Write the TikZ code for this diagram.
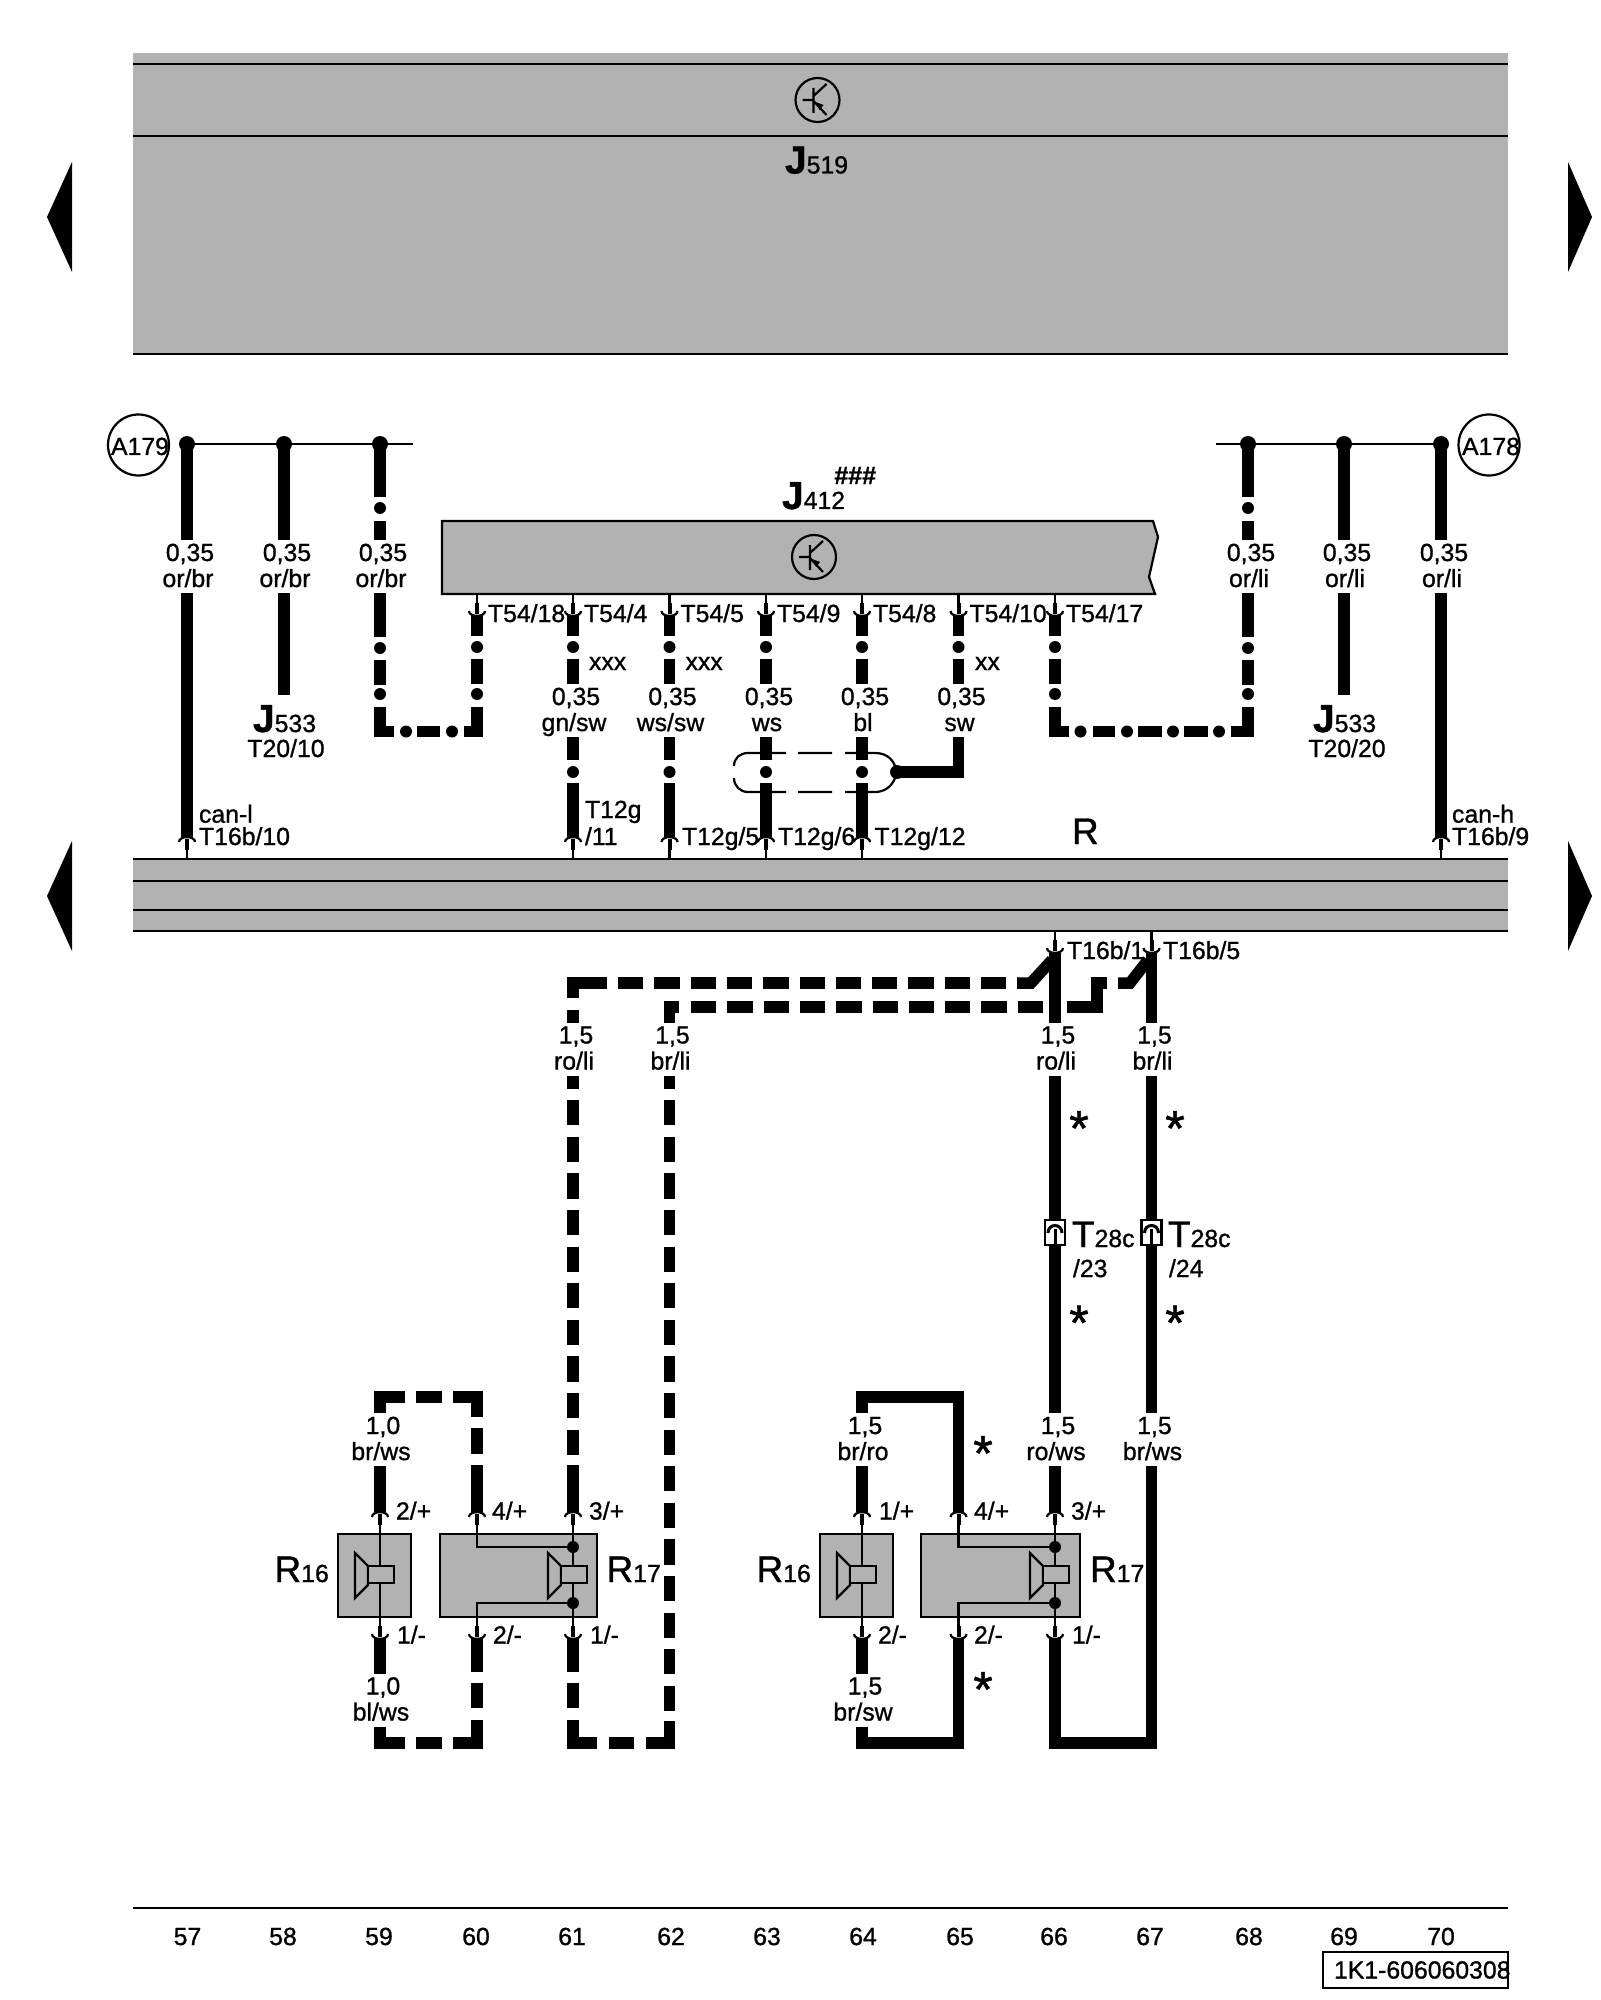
\documentclass[tikz,border=0pt]{standalone}
\usepackage{fontspec}
\setmainfont[FakeBold=1.0]{Liberation Sans}
\definecolor{blockgray}{RGB}{178,178,178}
\newcommand\fsm{\fontsize{12.4}{13}\selectfont}
\newcommand\fbig{\fontsize{18.5}{19}\selectfont}
\newcommand\fbigb{\fontsize{19.5}{20}\bfseries\selectfont}
\newcommand\bigsub[2]{{\fbig #1}{\fsm #2}}
\newcommand\jsub[1]{{\fbigb J}{\fsm #1}}
\newcommand\wl[2]{\rule{0pt}{10.5pt}\hspace*{2pt}#1\\\rule[-3pt]{0pt}{3pt}#2}
\tikzset{
  thinline/.style={line width=1.1pt},
  wire/.style={line width=5.75pt,line cap=butt,line join=miter,miter limit=10},
  dashH/.style={wire,dash pattern=on 12.65pt off 5.5pt},
  dashV/.style={wire,dash pattern=on 12.6pt off 5.7pt,dash phase=6pt},
  wlabel/.style={font=\fsm,align=center,inner sep=0pt,outer sep=0pt,minimum height=26.5pt,xshift=-0.5pt},
  txt/.style={font=\fsm,inner sep=0pt,outer sep=0pt,anchor=base west},
  txtc/.style={font=\fsm,inner sep=0pt,outer sep=0pt,anchor=base},
  star/.style={font=\fontsize{25}{25}\selectfont,inner sep=0pt,outer sep=0pt,anchor=base},
  gbox/.style={draw=black,line width=1.1pt,fill=blockgray,inner sep=0pt,outer sep=0pt,rectangle},
  tag/.style={circle,draw=black,line width=1.1pt,fill=white,inner sep=0pt,minimum size=30.5pt},
}
% vertical and horizontal wire pieces
\newcommand\vw[3]{\draw[wire] (#1 |- 0,#2) -- (#1 |- 0,#3);}
\newcommand\hw[3]{\draw[wire] (#1,#3) -- (#2,#3);}
\newcommand\vd[2]{\fill (#1 |- 0,#2) circle (6);}
\newcommand\hd[2]{\fill (#1,#2) circle (6);}
% connector drawn at a wire end, dir=1: contact below, dir=-1: contact above
\newcommand\pinart[2]{\begin{scope}[shift={(#1)},yscale=#2]
  \draw[line width=1.1pt,fill=white] (-8,5) .. controls (-8,-1.5) and (8,-1.5) .. (8,5);
  \draw[line width=2pt] (0,2) -- (0,13);
  \draw[thinline] (0,13) -- (0,22);
\end{scope}}
\newcommand\speaker[1]{\begin{scope}[shift={(#1 |- 0,1575)}]
  \draw[thinline,fill=blockgray] (-25,-22) -- (-25,23) -- (-12,10) -- (-12,-9) -- cycle;
  \draw[thinline,fill=blockgray] (-12,-9) rectangle (14,8);
\end{scope}}
\newcommand\transistor[1]{\begin{scope}[shift={(#1)}]
  \draw[line width=1.1pt] (0,0) circle (22);
  \draw[line width=1.1pt] (-15,0) -- (-4,0) (-4,-12) -- (-4,13) (-4,-4) -- (9,-16) (-4,1) -- (9,15);
  \fill (-2,2) -- (6,5) -- (2,10) -- cycle;
\end{scope}}
\newcommand\colupper[1]{\vw{#1}{614}{636}\vd{#1}{647}\vw{#1}{659}{684}}
\newcommand\collower[1]{\vw{#1}{737}{760}\vd{#1}{772}}
\newcommand\tcontact[1]{\begin{scope}[shift={(#1)}]
  \draw[thinline,fill=white] (-10,0) rectangle (10,25);
  \draw[line width=1.5pt] (-7,13) .. controls (-7,3) and (7,3) .. (7,13);
  \draw[line width=1.5pt] (0,9) -- (0,25);
\end{scope}}
\begin{document}
\begin{tikzpicture}[x=0.5pt,y=-0.5pt]
\path[use as bounding box,fill=white] (0,0) rectangle (1600,2000);
% columns
\coordinate (c57) at (187,0);   \coordinate (c58) at (284,0);
\coordinate (c59) at (380,0);   \coordinate (c60) at (477,0);
\coordinate (c61) at (573,0);   \coordinate (c62) at (669.5,0);
\coordinate (c63) at (766,0);   \coordinate (c64) at (862,0);
\coordinate (c65) at (958.5,0); \coordinate (c66) at (1055,0);
\coordinate (c67) at (1151.5,0);\coordinate (c68) at (1248,0);
\coordinate (c69) at (1344,0);  \coordinate (c70) at (1441,0);
% side triangles
\fill (72,162) -- (47,217) -- (72,272) -- cycle;
\fill (1568,162) -- (1592,217) -- (1568,272) -- cycle;
\fill (72,841) -- (47,896) -- (72,951) -- cycle;
\fill (1568,841) -- (1592,896) -- (1568,951) -- cycle;
% J519 block
\fill[blockgray] (133,53) rectangle (1508,354);
\draw[thinline] (133,64) -- (1508,64) (133,136) -- (1508,136) (133,354) -- (1508,354);
\coordinate (t519) at (817.5,100);
\transistor{t519}
\node[txt] (J519) at (785,173.5) {\jsub{519}};
% R bar
\fill[blockgray] (133,859) rectangle (1508,931);
\draw[thinline] (133,859) -- (1508,859) (133,881) -- (1508,881) (133,910) -- (1508,910) (133,931) -- (1508,931);
% J412 block
\draw[thinline,fill=blockgray] (1153,521) -- (442,521) -- (442,594) -- (1155,594) -- (1149,577) -- (1158,537) -- cycle;
\coordinate (t412) at (814,557);
\transistor{t412}
\node[txt] (J412) at (782,509) {\jsub{412}};
\node[font=\fontsize{12.5}{13}\bfseries\selectfont,inner sep=0pt,anchor=base west] (hash) at (834,484) {\#\#\#};
% bus lines
\coordinate (n57) at (c57 |- 0,444); \coordinate (n58) at (c58 |- 0,444); \coordinate (n59) at (c59 |- 0,444);
\coordinate (n68) at (c68 |- 0,444); \coordinate (n69) at (c69 |- 0,444); \coordinate (n70) at (c70 |- 0,444);
\coordinate (busl) at (413,444); \coordinate (busr) at (1216,444);
\draw[thinline] (n57) -- (busl);
\draw[thinline] (busr) -- (n70);
% circled tags
\node[tag] (a179) at (138.5,445) {};
\node[txtc] (a179t) at (140,455) {A179};
\node[tag] (a178) at (1489,445) {};
\node[txtc] (a178t) at (1491,455) {A178};
% pin coordinates
\foreach \c in {57,61,62,63,64,70} {\coordinate (pb\c) at (c\c |- 0,837);}
\foreach \c in {60,61,62,63,64,65,66} {\coordinate (pj\c) at (c\c |- 0,616);}
\foreach \c in {66,67} {\coordinate (pr\c) at (c\c |- 0,953);}
\foreach \c in {59,60,61,64,65,66} {\coordinate (st\c) at (c\c |- 0,1512); \coordinate (sb\c) at (c\c |- 0,1639);}
% wire labels
\node[wlabel] (la57) at (189,566.5) {\wl{0,35}{or/br}};
\node[wlabel] (la58) at (286,566.5) {\wl{0,35}{or/br}};
\node[wlabel] (la59) at (382,566.5) {\wl{0,35}{or/br}};
\node[wlabel] (la68) at (1250,566.5) {\wl{0,35}{or/li}};
\node[wlabel] (la69) at (1346,566.5) {\wl{0,35}{or/li}};
\node[wlabel] (la70) at (1443,566.5) {\wl{0,35}{or/li}};
\node[wlabel] (lb61) at (575,710.5) {\wl{0,35}{gn/sw}};
\node[wlabel] (lb62) at (671.5,710.5) {\wl{0,35}{ws/sw}};
\node[wlabel] (lb63) at (768,710.5) {\wl{0,35}{ws}};
\node[wlabel] (lb64) at (864,710.5) {\wl{0,35}{bl}};
\node[wlabel] (lb65) at (960.5,710.5) {\wl{0,35}{sw}};
\node[wlabel] (lc61) at (575,1049) {\wl{1,5}{ro/li}};
\node[wlabel] (lc62) at (671.5,1049) {\wl{1,5}{br/li}};
\node[wlabel] (lc66) at (1057,1049) {\wl{1,5}{ro/li}};
\node[wlabel] (lc67) at (1153.5,1049) {\wl{1,5}{br/li}};
\node[wlabel] (ld59) at (382,1439.5) {\wl{1,0}{br/ws}};
\node[wlabel] (ld64) at (864,1439.5) {\wl{1,5}{br/ro}};
\node[wlabel] (ld66) at (1057,1439.5) {\wl{1,5}{ro/ws}};
\node[wlabel] (ld67) at (1153.5,1439.5) {\wl{1,5}{br/ws}};
\node[wlabel] (le59) at (382,1700) {\wl{1,0}{bl/ws}};
\node[wlabel] (le64) at (864,1700) {\wl{1,5}{br/sw}};
% top wires
\draw[wire] (n57) -- (n57 |- la57.north);
\draw[wire] (n57 |- la57.south) -- (pb57);
\draw[wire] (n58) -- (n58 |- la58.north);
\coordinate (e58) at (c58 |- 0,695);
\draw[wire] (n58 |- la58.south) -- (e58);
\draw[wire] (n69) -- (n69 |- la69.north);
\coordinate (e69) at (c69 |- 0,695);
\draw[wire] (n69 |- la69.south) -- (e69);
\draw[wire] (n70) -- (n70 |- la70.north);
\draw[wire] (n70 |- la70.south) -- (pb70);
% dash-dot loop left
\vw{n59}{444}{497}\vd{c59}{508}\vw{c59}{521}{540}\vw{c59}{593}{637}\vd{c59}{648}\vw{c59}{660}{685}\vd{c59}{694}
\draw[wire] (380,707) -- (380,731.5) -- (394,731.5);
\hd{406}{731.5}\hw{417}{440}{731.5}\hd{452}{731.5}
\draw[wire] (464,731.5) -- (477,731.5) -- (477,707);
\vd{c60}{694}
\colupper{c60}
% dash-dot loop right
\vw{n68}{444}{497}\vd{c68}{508}\vw{c68}{521}{540}\vw{c68}{593}{637}\vd{c68}{648}\vw{c68}{660}{685}\vd{c68}{694}
\draw[wire] (1248,707) -- (1248,731.5) -- (1231,731.5);
\hd{1219}{731.5}\hw{1184}{1208}{731.5}\hd{1173}{731.5}\hw{1138}{1162}{731.5}\hd{1127}{731.5}\hw{1093}{1115}{731.5}\hd{1080.5}{731.5}
\draw[wire] (1069,731.5) -- (1055,731.5) -- (1055,707);
\vd{c66}{694}
\colupper{c66}
% bus dots
\foreach \c in {n57,n58,n59,n68,n69,n70} {\fill (\c) circle (8);}
% T54 to T12g columns
\foreach \c in {61,62,63,64} {\colupper{c\c}\collower{c\c}\draw[wire] (c\c |- 0,783) -- (pb\c);}
\colupper{c65}
\coordinate (sd) at (897,772);
\draw[wire] (lb65.south -| c65) -- (c65 |- sd) -- (sd);
\fill (sd) circle (7);
% shield
\draw[thinline] (734,766) .. controls (734,758) and (740,753) .. (748,753) -- (786,753);
\draw[thinline] (798,753) -- (832,753) (845,753) -- (875,753) .. controls (885,753) and (892,758) .. (895,766);
\draw[thinline] (734,778) .. controls (734,786) and (740,792) .. (748,792) -- (786,792);
\draw[thinline] (798,792) -- (832,792) (845,792) -- (875,792) .. controls (885,792) and (892,786) .. (895,778);
% middle wires
\draw[wire] (573,998) -- (573,983) -- (607,983);
\vw{c61}{1010}{1023}
\coordinate (ha) at (618,983); \coordinate (hb) at (1018,983);
\draw[dashH] (ha) -- (hb);
\draw[wire] (1018,983) -- (1031,983) -- (1052,960);
\draw[wire] (669.5,1023) -- (669.5,1007) -- (679,1007);
\coordinate (la) at (691,1007); \coordinate (lb) at (1045,1007);
\draw[dashH] (la) -- (lb);
\draw[wire] (1067,1007) -- (1097,1007) -- (1097,983) -- (1107,983);
\draw[wire] (1118,983) -- (1130,983) -- (1148,960);
\draw[wire] (pr66) -- (pr66 |- lc66.north);
\draw[wire] (pr67) -- (pr67 |- lc67.north);
\draw[wire] (pr66 |- lc66.south) -- (pr66 |- ld66.north);
\draw[wire] (pr67 |- lc67.south) -- (pr67 |- ld67.north);
\draw[wire] (st66 |- ld66.south) -- (st66);
% long dashed wires
\coordinate (d61) at (c61 |- 0,1465);
\draw[dashV] (c61 |- lc61.south) -- (d61);
\draw[wire] (d61) -- (st61);
\coordinate (d62) at (c62 |- 0,1721);
\draw[dashV] (c62 |- lc62.south) -- (d62);
% left speaker loops
\draw[wire] (380,1413) -- (380,1397) -- (405,1397);
\hw{416}{442}{1397}
\draw[wire] (453,1397) -- (477,1397) -- (477,1417);
\vw{c60}{1428}{1454}
\draw[wire] (c60 |- 0,1465) -- (st60);
\draw[wire] (st59 |- ld59.south) -- (st59);
\draw[wire] (sb59) -- (sb59 |- le59.north);
\draw[wire] (sb59 |- le59.south) -- (380,1743) -- (405,1743);
\hw{416}{442}{1743}
\draw[wire] (453,1743) -- (477,1743) -- (477,1720);
\vw{c60}{1683}{1708}
\draw[wire] (c60 |- 0,1672) -- (sb60);
\draw[wire] (c61 |- 0,1720) -- (573,1743) -- (597,1743);
\hw{609}{634}{1743}
\draw[wire] (646,1743) -- (669.5,1743) -- (d62);
\vw{c61}{1683}{1708}
\draw[wire] (c61 |- 0,1672) -- (sb61);
% right speaker loops
\draw[wire] (st64 |- ld64.north) -- (862,1397) -- (958.5,1397) -- (st65);
\draw[wire] (st64 |- ld64.south) -- (st64);
\draw[wire] (sb64) -- (sb64 |- le64.north);
\draw[wire] (sb64 |- le64.south) -- (862,1743) -- (958.5,1743) -- (sb65);
\draw[wire] (sb66) -- (1055,1743) -- (1151.5,1743) -- (c67 |- ld67.south);
% T28c contacts
\coordinate (tc66) at (c66 |- 0,1220); \coordinate (tc67) at (c67 |- 0,1220);
\tcontact{tc66}\tcontact{tc67}
% connector art
\foreach \c in {57,61,62,63,64,70} {\pinart{pb\c}{1}}
\foreach \c in {60,61,62,63,64,65,66} {\pinart{pj\c}{-1}}
\pinart{pr66}{-1}\pinart{pr67}{-1}
\foreach \c in {59,60,61,64,65,66} {\pinart{st\c}{1}\pinart{sb\c}{-1}}
% speaker boxes
\node[gbox,minimum width=36.5pt,minimum height=41.5pt] (r16a) at (374.5,1575.5) {};
\node[gbox,minimum width=78.5pt,minimum height=41.5pt] (r17a) at (518.5,1575.5) {};
\node[gbox,minimum width=36.5pt,minimum height=41.5pt] (r16b) at (856.5,1575.5) {};
\node[gbox,minimum width=79.5pt,minimum height=41.5pt] (r17b) at (1000.5,1575.5) {};
\draw[thinline] (c59 |- 0,1534) -- (c59 |- 0,1617);
\draw[thinline] (c64 |- 0,1534) -- (c64 |- 0,1617);
\draw[thinline] (c61 |- 0,1534) -- (c61 |- 0,1617);
\draw[thinline] (c66 |- 0,1534) -- (c66 |- 0,1617);
\draw[thinline] (c60 |- 0,1534) -- (477,1547) -- (573,1547);
\draw[thinline] (c60 |- 0,1617) -- (477,1603) -- (573,1603);
\draw[thinline] (c65 |- 0,1534) -- (958.5,1547) -- (1055,1547);
\draw[thinline] (c65 |- 0,1617) -- (958.5,1603) -- (1055,1603);
\fill (573,1547) circle (6); \fill (573,1603) circle (6);
\fill (1055,1547) circle (6); \fill (1055,1603) circle (6);
\speaker{c59}\speaker{c61}\speaker{c64}\speaker{c66}
% pin texts
\node[txt] (t1) at (488,622) {T54/18};
\node[txt] (t2) at (584,622) {T54/4};
\node[txt] (t3) at (680.5,622) {T54/5};
\node[txt] (t4) at (777,622) {T54/9};
\node[txt] (t5) at (873,622) {T54/8};
\node[txt] (t6) at (969.5,622) {T54/10};
\node[txt] (t7) at (1066,622) {T54/17};
\node[txt] (x1) at (589,670) {xxx};
\node[txt] (x2) at (685.5,670) {xxx};
\node[txt] (x3) at (975,670) {xx};
\node[txt] (c1) at (199,822.7) {can-l};
\node[txt] (c2) at (199,845) {T16b/10};
\node[txt] (c3) at (1452,822.7) {can-h};
\node[txt] (c4) at (1452,845) {T16b/9};
\node[txt] (g1) at (585,818) {T12g};
\node[txt] (g2) at (585,845) {/11};
\node[txt] (g3) at (682,845) {T12g/5};
\node[txt] (g4) at (778,845) {T12g/6};
\node[txt] (g5) at (874.5,845) {T12g/12};
\node[txt,font=\fbig] (Rlab) at (1072,844) {R};
\node[txt] (J533a) at (253,732) {\jsub{533}};
\node[txtc] (T2010) at (286,757) {T20/10};
\node[txt] (J533b) at (1313,732) {\jsub{533}};
\node[txtc] (T2020) at (1347,757) {T20/20};
\node[txt] (b1) at (1067,959) {T16b/1};
\node[txt] (b2) at (1163,959) {T16b/5};
\node[txt] (T28a) at (1072,1247) {\bigsub{T}{28c}};
\node[txt] (T28b) at (1168,1247) {\bigsub{T}{28c}};
\node[txt] (n23) at (1073,1277) {/23};
\node[txt] (n24) at (1169,1277) {/24};
\node[star] (s1) at (1079,1145.5) {*};
\node[star] (s2) at (1175,1145.5) {*};
\node[star] (s3) at (1079,1340) {*};
\node[star] (s4) at (1175,1340) {*};
\node[star] (s5) at (983,1470.5) {*};
\node[star] (s6) at (983,1706.5) {*};
% speaker texts
\node[txt] (a1) at (396,1519.5) {2/+};
\node[txt] (a2) at (492,1519.5) {4/+};
\node[txt] (a3) at (589,1519.5) {3/+};
\node[txt] (a4) at (397,1643.5) {1/-};
\node[txt] (a5) at (493,1643.5) {2/-};
\node[txt] (a6) at (590,1643.5) {1/-};
\node[txt] (a7) at (879,1519.5) {1/+};
\node[txt] (a8) at (974,1519.5) {4/+};
\node[txt] (a9) at (1071,1519.5) {3/+};
\node[txt] (a10) at (878,1643.5) {2/-};
\node[txt] (a11) at (974,1643.5) {2/-};
\node[txt] (a12) at (1072,1643.5) {1/-};
\node[txt] (R16a) at (274.5,1582) {\bigsub{R}{16}};
\node[txt] (R17a) at (606.5,1582) {\bigsub{R}{17}};
\node[txt] (R16b) at (756.5,1582) {\bigsub{R}{16}};
\node[txt] (R17b) at (1090,1582) {\bigsub{R}{17}};
% bottom scale
\coordinate (sl) at (133,1908); \coordinate (sr) at (1508,1908);
\draw[thinline] (sl) -- (sr);
\foreach \n/\x in {57/187.5,58/283,59/379,60/476,61/572,62/671,63/767,64/863,65/960,66/1054,67/1150,68/1249,69/1344,70/1441}
  {\node[txtc] (num\n) at (\x,1945) {\n};}
\node[draw=black,line width=1.1pt,fill=none,inner sep=0pt,outer sep=0pt,minimum width=92.5pt,minimum height=18pt] (codebox) at (1415.5,1970) {};
\node[txt] (code) at (1334,1978.5) {1K1-606060308};
\end{tikzpicture}
\end{document}
